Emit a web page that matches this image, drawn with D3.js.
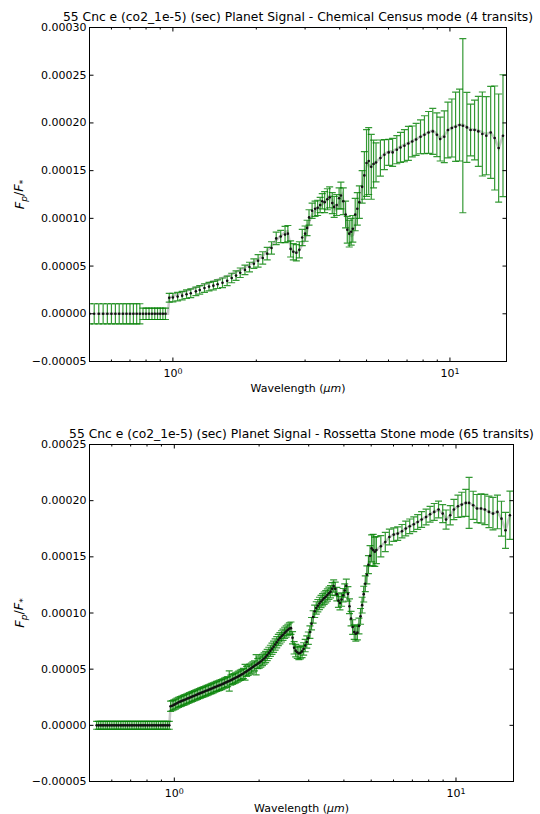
<!DOCTYPE html>
<html>
<head>
<meta charset="utf-8">
<script src="https://cdn.jsdelivr.net/npm/d3@7"></script>
<style>
  body { margin: 0; background: #fff; }
  svg { font-family: "DejaVu Sans", sans-serif; }
</style>
</head>
<body>
<svg id="chart" width="540" height="814"></svg>
<script>
// wavelength in micron, planet signal and 1-sigma error in ppm (1e-6)

// shared mid-IR bins (both modes)
const midWave = [5.41, 5.61, 5.80, 6.01, 6.21, 6.43, 6.63, 6.85, 7.08, 7.31, 7.55, 7.83, 8.09, 8.37, 8.67, 8.97,
  9.22, 9.54, 9.83, 10.16, 10.48, 10.83, 11.13, 11.51, 11.87, 12.27, 12.66, 13.09, 13.53, 14.03, 14.50, 14.99, 15.54]

// Chemical Census mode (4 transits)
const censusVisWave = [0.50, 0.52, 0.54, 0.56, 0.58, 0.60, 0.62, 0.64, 0.66, 0.68, 0.70, 0.72, 0.74, 0.76,
  0.78, 0.80, 0.82, 0.84, 0.86, 0.88, 0.90, 0.92, 0.94]
const censusVisFp = [0, 0, 0, 0, 0, 0, 0, 0, 0, 0, 0, 0, 0, 0, 0, 0, 0, 0, 0, 0, 0, 0, 0]
const censusVisErr = [10.5, 10.5, 10.5, 10.5, 10.5, 10.5, 10.5, 10.5, 10.5, 10.5, 10.5, 10.5, 10.5, 10.5,
  6, 6, 6, 6, 6, 6, 6, 6, 6]

const censusNirWave = [0.97, 1.00, 1.04, 1.08, 1.12, 1.16, 1.21, 1.25, 1.30, 1.35, 1.40, 1.45,
  1.51, 1.57, 1.63, 1.69, 1.75, 1.82, 1.89, 1.96,
  2.03, 2.11, 2.19, 2.27, 2.36, 2.45,
  2.54, 2.60, 2.66, 2.72, 2.79, 2.86, 2.93,
  3.00, 3.05, 3.10, 3.18, 3.26, 3.33, 3.40, 3.46,
  3.53, 3.61, 3.68, 3.76, 3.82, 3.90, 3.98,
  4.04, 4.12, 4.20, 4.26, 4.33, 4.40, 4.46,
  4.55, 4.63, 4.71,
  4.82, 4.91, 5.00, 5.09, 5.20, 5.30]
const censusNirFp = [16.8, 17, 18, 19, 20.5, 21.5, 23.5, 25, 27, 28.5, 29.5, 31,
  32.5, 34.5, 37.5, 40, 43, 46, 49, 52.5,
  55.5, 58.5, 63, 69, 79, 81,
  83, 84, 68, 65, 64, 67, 80,
  84, 90, 101, 108, 110, 111, 114, 118,
  117, 120, 122, 116, 112, 114, 121,
  124, 118, 104, 88, 84, 86, 89,
  104, 110, 117,
  133, 145, 158, 160, 154, 157]
const censusNirErr = [4.5, 4.5, 4.5, 4.5, 4.5, 4.5, 4.5, 4.5, 4.5, 4.5, 4.5, 4.5,
  5, 5, 5, 5, 5, 5, 5, 5,
  6.5, 6.5, 6.5, 6.5, 6.5, 6.5,
  8.5, 8.5, 8.5, 8.5, 8.5, 8.5, 8.5,
  8, 8, 8, 8, 8, 8, 8, 8,
  11, 11, 11, 11, 11, 11, 11,
  14, 14, 14, 14, 14, 14, 14,
  17, 17, 17,
  17, 25, 35, 35, 34, 25]

const censusMidFp = [158.6, 163.2, 166.7, 169.1, 169.1, 171.9, 174.3, 176.1, 178.5, 180.6, 182.7, 185.5,
  187.6, 190.0, 191.1, 187.6, 183.1, 185.5, 192.6, 194.7, 196.0, 197.8, 197.1, 195.3, 192.6, 192.6,
  191.1, 188.4, 186.6, 190.0, 184.2, 173.7, 186.6]
const censusMidErr = [20.4, 18.9, 15.7, 13.6, 14.7, 14.7, 15.7, 16.8, 17.8, 16.2, 16.8, 17.8,
  19.9, 22, 24.1, 23, 23, 27.2, 29.3, 30.4, 36.2, 37.7, 91.2, 36.7, 27.2, 31.4,
  36.7, 44, 40.9, 48.2, 54.5, 56.6, 63.9]

// Rossetta Stone mode (65 transits)
const rosettaVisWave = [0.530, 0.538, 0.546, 0.554, 0.562, 0.571, 0.579, 0.588, 0.597, 0.606,
  0.615, 0.624, 0.633, 0.643, 0.652, 0.662, 0.672, 0.682, 0.692, 0.703,
  0.713, 0.724, 0.735, 0.746, 0.757, 0.768, 0.780, 0.791, 0.803, 0.815,
  0.828, 0.840, 0.853, 0.865, 0.878, 0.892, 0.905, 0.918, 0.932, 0.946, 0.960]
const rosettaVisFp = [0, 0, 0, 0, 0, 0, 0, 0, 0, 0, 0, 0, 0, 0, 0, 0, 0, 0, 0, 0,
  0, 0, 0, 0, 0, 0, 0, 0, 0, 0, 0, 0, 0, 0, 0, 0, 0, 0, 0, 0, 0]
const rosettaVisErr = [3.5, 3.5, 3.5, 3.5, 3.5, 3.5, 3.5, 3.5, 3.5, 3.5,
  3.5, 3.5, 3.5, 3.5, 3.5, 3.5, 3.5, 3.5, 3.5, 3.5,
  3.5, 3.5, 3.5, 3.5, 3.5, 3.5, 3.5, 3.5, 3.5, 3.5,
  3.5, 3.5, 3.5, 3.5, 3.5, 3.5, 3.5, 3.5, 3.5, 3.5, 3.5]

const rosettaNirWave = [0.970, 0.983, 0.996, 1.009, 1.022, 1.035, 1.049, 1.062, 1.076, 1.090,
  1.104, 1.119, 1.133, 1.148, 1.163, 1.178, 1.194, 1.209, 1.225, 1.241,
  1.257, 1.274, 1.290, 1.307, 1.324, 1.341, 1.359, 1.376, 1.394, 1.413,
  1.431, 1.450, 1.469, 1.488, 1.507, 1.527, 1.547, 1.567, 1.587, 1.608,
  1.629, 1.650, 1.672, 1.693, 1.715, 1.738, 1.760, 1.783, 1.806, 1.830,
  1.854, 1.878, 1.902, 1.927, 1.952, 1.978, 2.003, 2.029, 2.056, 2.083,
  2.110, 2.137, 2.165, 2.193, 2.222, 2.251, 2.280, 2.310, 2.340, 2.370,
  2.401, 2.432, 2.464, 2.496, 2.529, 2.561, 2.595, 2.629, 2.663, 2.697,
  2.732, 2.768, 2.804, 2.841, 2.878, 2.915, 2.953, 2.991, 3.030, 3.070,
  3.110, 3.150, 3.191, 3.233, 3.275, 3.318, 3.361, 3.404, 3.449, 3.494,
  3.539, 3.585, 3.632, 3.679, 3.727, 3.775, 3.825, 3.874, 3.925, 3.976,
  4.027, 4.080, 4.133, 4.187, 4.241, 4.296, 4.352, 4.409, 4.466, 4.524,
  4.583, 4.643, 4.703, 4.764, 4.826, 4.889, 4.953, 5.017, 5.082, 5.149,
  5.216]
const rosettaNirFp = [17.0, 17.5, 18.2, 18.9, 19.7, 20.5, 21.1, 21.6, 22.2, 22.8,
  23.4, 24.0, 24.6, 25.2, 25.8, 26.4, 27.0, 27.6, 28.2, 28.8,
  29.3, 29.9, 30.5, 31.0, 31.6, 32.2, 32.8, 33.4, 34.0, 34.6,
  35.2, 35.7, 36.3, 36.9, 37.6, 38.2, 38.9, 39.5, 40.2, 40.9,
  41.6, 42.3, 43.0, 43.8, 44.6, 45.4, 46.2, 47.2, 48.0, 49.0,
  50.0, 51.0, 52.0, 53.0, 53.9, 54.9, 55.8, 56.8, 58.2, 59.5,
  60.9, 62.6, 64.5, 66.3, 68.1, 70.0, 71.9, 73.9, 75.9, 77.6,
  79.2, 80.7, 82.3, 83.6, 85.0, 86.2, 86.5, 78.0, 69.0, 66.5,
  65.0, 64.0, 64.6, 65.8, 68.0, 71.0, 74.2, 77.6, 83.0, 90.5,
  96.5, 101.5, 104.5, 106.5, 108.5, 110.2, 111.8, 113.2, 114.5, 116.0,
  117.5, 119.0, 121.5, 124.0, 121.5, 116.8, 111.0, 108.8, 112.0, 115.8,
  120.0, 124.2, 117.0, 106.0, 95.0, 87.5, 83.0, 81.5, 82.5, 88.5,
  97.0, 107.0, 116.8, 126.0, 134.0, 143.0, 151.0, 157.5, 156.0, 154.5,
  156.0]
const rosettaNirErr = [4.5, 4.5, 4.5, 4.5, 4.5, 4.5, 4.5, 4.5, 4.5, 4.5,
  4.5, 4.5, 4.5, 4.5, 4.5, 4.5, 4.5, 4.5, 4.5, 4.5,
  4.5, 4.5, 4.5, 4.5, 4.5, 4.5, 4.5, 4.5, 4.5, 4.5,
  4.5, 4.5, 4.5, 4.5, 4.5, 4.5, 4.5, 9, 4.5, 4.5,
  4.5, 4.5, 4.5, 4.5, 4.5, 4.5, 4.5, 7, 4.5, 4.5,
  4.5, 4.5, 4.5, 4.5, 9, 4.5, 5, 5, 5, 5,
  5, 5, 5, 5, 5, 5, 5, 5, 5, 5,
  5, 5, 5, 5, 5, 5, 5.5, 5.5, 5.5, 5.5,
  5.5, 5.5, 5.5, 5.5, 5.5, 5.5, 5.5, 5.5, 5.5, 5.5,
  5.5, 5.5, 5.5, 5.5, 5.5, 5.5, 5.5, 5.5, 5.5, 5.5,
  5.5, 5.5, 5.5, 5.5, 6, 6, 6, 6, 6, 6,
  6, 6, 6.5, 6.5, 6.5, 6.5, 6.5, 6.5, 6.5, 7,
  7, 7, 7, 7, 8, 8, 9, 12, 14, 13,
  12]

const rosettaMidFp = [159.4, 163.2, 167.7, 169.8, 170.7, 172.8, 175.2, 177.2, 179.0, 181.0, 183.2, 185.5,
  187.9, 190.0, 192.1, 188.5, 183.2, 187.0, 192.1, 195.0, 196.5, 198.0, 198.0, 195.9, 193.0, 193.0,
  192.1, 190.0, 188.5, 190.0, 184.0, 173.6, 187.0]
const rosettaMidErr = [9.5, 8.5, 7, 6, 6, 6, 6.5, 6.5, 6.5, 6.5, 7, 7,
  7, 7.5, 7.5, 8, 8.5, 8.5, 9, 10, 11, 12, 22.7, 12.5, 12.5, 13,
  13.5, 14, 14.5, 15, 15.5, 16, 21.5]

const xDomain = [0.5, 16]
const yMin = -50
const xMajor = [1, 10]
const xMinor = [0.6, 0.7, 0.8, 0.9, 2, 3, 4, 5, 6, 7, 8, 9]

const svg = d3.select('#chart')

const toPoints = series => series.flatMap(([w, v, e]) => w.map((d, i) => ({ w: d, v: v[i], e: e[i] })))

// model spectrum drawn underneath, taken from the high-S/N run
const modelPts = toPoints([
  [rosettaVisWave, rosettaVisFp, rosettaVisErr],
  [rosettaNirWave, rosettaNirFp, rosettaNirErr],
  [midWave, rosettaMidFp, rosettaMidErr]
])

const panels = [
  {
    id: 'census',
    title: '55 Cnc e (co2_1e-5) (sec) Planet Signal - Chemical Census mode (4 transits)',
    left: 89.5, right: 506.5, top: 27.5, bottom: 361.5, yMax: 300,
    series: [
      [censusVisWave, censusVisFp, censusVisErr],
      [censusNirWave, censusNirFp, censusNirErr],
      [midWave, censusMidFp, censusMidErr]
    ]
  },
  {
    id: 'rosetta',
    title: '55 Cnc e (co2_1e-5) (sec) Planet Signal - Rossetta Stone mode (65 transits)',
    left: 89.5, right: 513.5, top: 444.5, bottom: 781.5, yMax: 250,
    series: [
      [rosettaVisWave, rosettaVisFp, rosettaVisErr],
      [rosettaNirWave, rosettaNirFp, rosettaNirErr],
      [midWave, rosettaMidFp, rosettaMidErr]
    ]
  }
]

function drawPanel(p) {
  const x = d3.scaleLog().domain(xDomain).range([p.left, p.right])
  const y = d3.scaleLinear().domain([yMin, p.yMax]).range([p.bottom, p.top])
  const pts = toPoints(p.series)
  const yTicks = d3.range(yMin, p.yMax + 1, 50)

  svg.append('clipPath').attr('id', 'clip-' + p.id)
    .append('rect')
    .attr('x', p.left).attr('y', p.top)
    .attr('width', p.right - p.left).attr('height', p.bottom - p.top)

  const plot = svg.append('g').attr('clip-path', `url(#clip-${p.id})`)

  // grey model line
  plot.append('path')
    .datum(modelPts)
    .attr('fill', 'none')
    .attr('stroke', '#9a9a9a')
    .attr('stroke-opacity', 0.55)
    .attr('stroke-width', 2.5)
    .attr('d', d3.line().x(d => x(d.w)).y(d => y(d.v)))

  // error bars
  plot.append('g')
    .attr('fill', 'none')
    .attr('stroke', 'green')
    .attr('stroke-opacity', 0.8)
    .attr('stroke-width', 1.2)
    .selectAll('path')
    .data(pts)
    .join('path')
    .attr('d', d => {
      const cx = x(d.w), y0 = y(d.v - d.e), y1 = y(d.v + d.e)
      return `M${cx},${y0}V${y1}M${cx - 3.5},${y0}h7M${cx - 3.5},${y1}h7`
    })

  // data points
  plot.append('g')
    .selectAll('circle')
    .data(pts)
    .join('circle')
    .attr('cx', d => x(d.w))
    .attr('cy', d => y(d.v))
    .attr('r', 1.3)
    .attr('fill', '#111')

  // ticks, pointing inwards on all four sides
  const noDomain = g => g.select('.domain').remove()
  const styleAxis = g => g.attr('font-family', null).attr('font-size', 11).attr('color', '#000')

  svg.append('g')
    .attr('transform', `translate(0,${p.bottom})`)
    .call(d3.axisBottom(x).tickValues(xMajor).tickSize(-4).tickPadding(8).tickFormat(() => '10').offset(0))
    .call(noDomain).call(styleAxis)
    .call(g => g.selectAll('.tick text').append('tspan')
      .attr('dy', '-0.45em').attr('font-size', '0.72em')
      .text(d => Math.round(Math.log10(d))))
  svg.append('g')
    .attr('transform', `translate(0,${p.bottom})`)
    .call(d3.axisBottom(x).tickValues(xMinor).tickSize(-2).tickFormat('').offset(0))
    .call(noDomain).call(styleAxis)
  svg.append('g')
    .attr('transform', `translate(0,${p.top})`)
    .call(d3.axisTop(x).tickValues(xMajor).tickSize(-4).tickFormat('').offset(0))
    .call(noDomain).call(styleAxis)
  svg.append('g')
    .attr('transform', `translate(0,${p.top})`)
    .call(d3.axisTop(x).tickValues(xMinor).tickSize(-2).tickFormat('').offset(0))
    .call(noDomain).call(styleAxis)

  svg.append('g')
    .attr('transform', `translate(${p.left},0)`)
    .call(d3.axisLeft(y).tickValues(yTicks).tickSize(-4).tickPadding(3)
      .tickFormat(d => d3.format('.5f')(d * 1e-6)).offset(0))
    .call(noDomain).call(styleAxis)
  svg.append('g')
    .attr('transform', `translate(${p.right},0)`)
    .call(d3.axisRight(y).tickValues(yTicks).tickSize(-4).tickFormat('').offset(0))
    .call(noDomain).call(styleAxis)

  // frame
  svg.append('rect')
    .attr('x', p.left).attr('y', p.top)
    .attr('width', p.right - p.left).attr('height', p.bottom - p.top)
    .attr('fill', 'none').attr('stroke', '#000').attr('stroke-width', 1)

  // title (sits over the top tick label, as in the original figure)
  svg.append('text')
    .attr('x', (p.left + p.right) / 2)
    .attr('y', p.top - 6.5)
    .attr('text-anchor', 'middle')
    .style('font-size', '12.3px')
    .text(p.title)

  // x label
  const xl = svg.append('text')
    .attr('x', (p.left + p.right) / 2)
    .attr('y', p.bottom + 30)
    .attr('text-anchor', 'middle')
    .style('font-size', '11px')
  xl.append('tspan').text('Wavelength (')
  xl.append('tspan').attr('font-style', 'italic').text('\u03bcm')
  xl.append('tspan').text(')')

  // y label
  const yl = svg.append('text')
    .attr('transform', `translate(24,${(p.top + p.bottom) / 2}) rotate(-90)`)
    .attr('text-anchor', 'middle')
    .style('font-size', '13px')
  yl.append('tspan').attr('font-style', 'italic').text('F')
  yl.append('tspan').attr('font-style', 'italic').attr('font-size', '0.7em').attr('dy', '0.3em').text('p')
  yl.append('tspan').attr('dy', '-0.3em').text('/')
  yl.append('tspan').attr('font-style', 'italic').text('F')
  yl.append('tspan').attr('font-size', '0.7em').attr('dy', '0.3em').text('*')
}

panels.forEach(drawPanel)
</script>
</body>
</html>
